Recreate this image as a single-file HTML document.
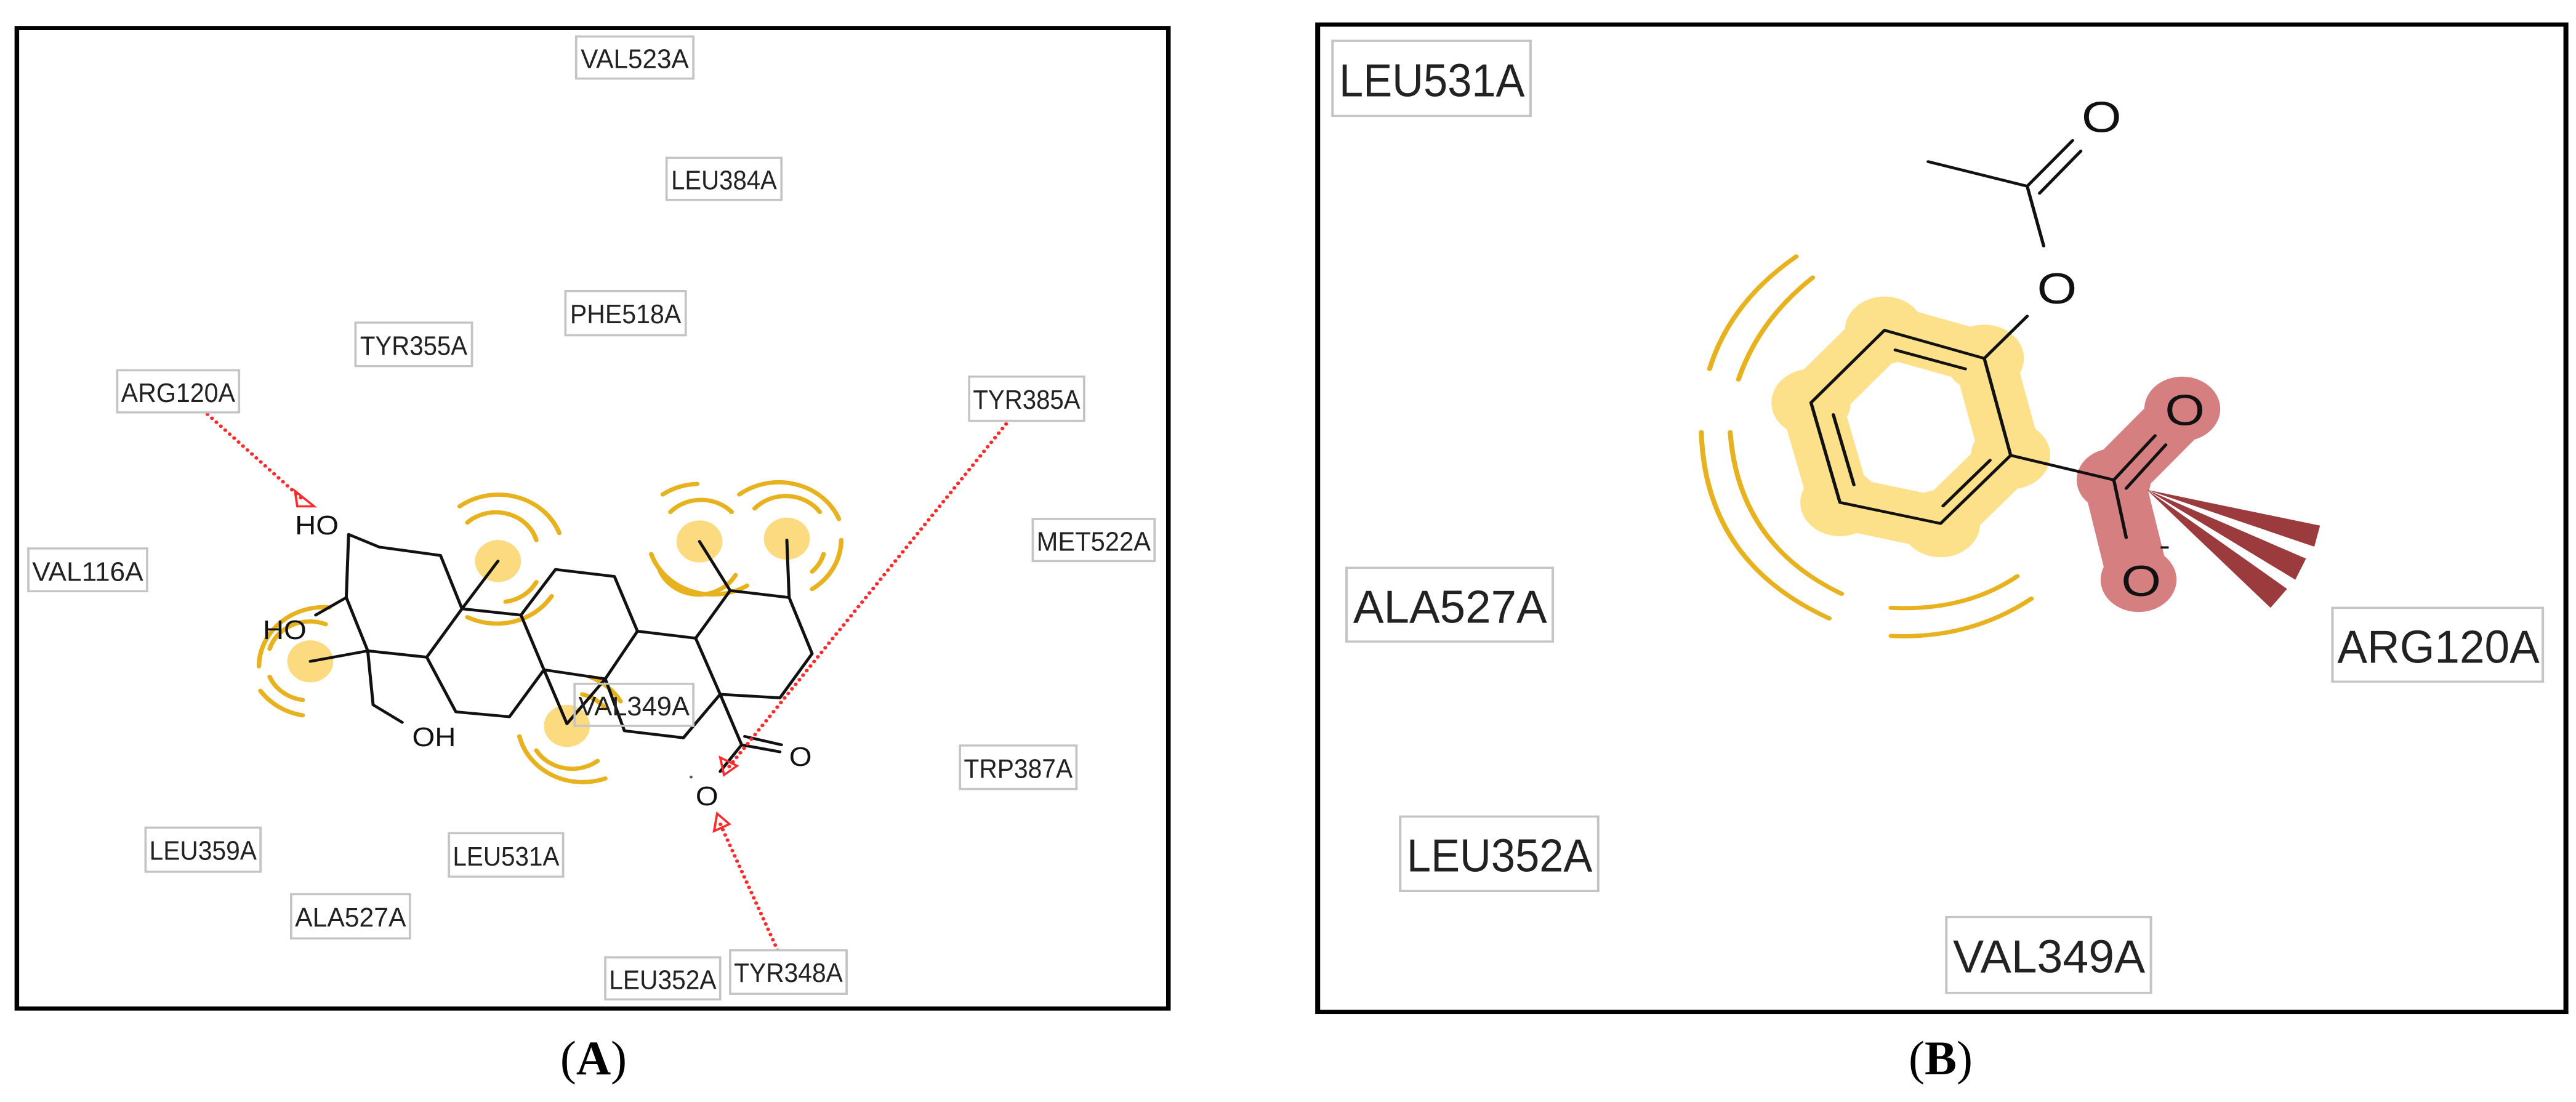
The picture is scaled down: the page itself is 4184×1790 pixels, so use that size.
<!DOCTYPE html>
<html><head><meta charset="utf-8"><style>
html,body{margin:0;padding:0;background:#fff;}
svg{display:block;}
.lb rect{fill:#fff;stroke:#c4c4c4;stroke-width:3;}
.lb text{font-family:"Liberation Sans",sans-serif;fill:#222;}
.bd{stroke:#111;stroke-width:4;fill:none;stroke-linecap:round;stroke-linejoin:round;}
.at{font-family:"Liberation Sans",sans-serif;fill:#111;}
.hy{fill:none;stroke:#e8b21f;stroke-width:6;stroke-linecap:round;}
.hb{fill:none;stroke:#ff2a2a;stroke-width:5;stroke-dasharray:0.1 8;stroke-linecap:round;}
</style></head><body>
<svg width="4184" height="1790" viewBox="0 0 4184 1790" xmlns="http://www.w3.org/2000/svg">
<rect width="4184" height="1790" fill="#fff"/>
<!-- Panel A -->
<g transform="scale(1.2444,1.1392)">
<rect x="22" y="40" width="1503" height="1398" fill="none" stroke="#000" stroke-width="6"/>
<g fill="#fcdb80">
<circle cx="650" cy="800" r="30"/><circle cx="405" cy="943" r="30"/><circle cx="740" cy="1035" r="30"/><circle cx="913" cy="772" r="30"/><circle cx="1027" cy="768" r="30"/>
</g>
<g class="hy">
<path d="M610,745 A55,55 0 0 1 700,770"/><path d="M600,722 A85,85 0 0 1 730,760"/>
<path d="M700,830 A55,55 0 0 1 660,858"/><path d="M720,850 A85,85 0 0 1 610,880"/>
<path d="M425,890 A55,55 0 0 0 352,925"/><path d="M430,866 A85,85 0 0 0 338,950"/>
<path d="M352,965 A55,55 0 0 0 395,998"/><path d="M340,985 A85,85 0 0 0 395,1020"/>
<path d="M700,1070 A55,55 0 0 0 780,1085"/><path d="M678,1050 A85,85 0 0 0 790,1110"/>
<path d="M760,990 A55,55 0 0 1 790,1010"/><path d="M770,965 A85,85 0 0 1 810,1000"/>
<path d="M875,730 A55,55 0 0 1 955,730"/><path d="M865,705 A85,85 0 0 1 910,690"/>
<path d="M860,810 A55,55 0 0 0 960,820"/><path d="M850,790 A85,85 0 0 0 975,835"/>
<path d="M985,725 A55,55 0 0 1 1070,730"/><path d="M965,705 A85,85 0 0 1 1095,740"/>
<path d="M1075,790 A55,55 0 0 1 1060,815"/><path d="M1098,770 A85,85 0 0 1 1060,840"/>
</g>
<g class="bd">
<path d="M455,762 L495,780 L575,792 L603,868 L557,937 L480,928 L452,852 Z"/>
<path d="M452,852 L412,877"/><path d="M480,928 L405,943"/>
<path d="M480,928 L487,1005 L525,1030"/>
<path d="M557,937 L595,1015 L665,1022 L710,955 L680,877 L603,868 L650,800"/>
<path d="M680,877 L725,812 L802,822 L832,900 L790,968 L710,955 L740,1032 L790,968"/>
<path d="M832,900 L908,910 L940,990 L892,1052 L815,1042 L790,968"/>
<path d="M908,910 L953,842 L1030,852 L1060,932 L1018,995 L940,990"/>
<path d="M953,842 L913,772"/><path d="M1030,852 L1027,770"/>
<path d="M940,990 L968,1062 L940,1100"/>
<path d="M968,1062 L1018,1072"/><path d="M972,1050 L1020,1062"/>
</g>
<text class="at" x="385" y="762" font-size="38">HO</text>
<text class="at" x="343" y="911" font-size="38">HO</text>
<text class="at" x="538" y="1064" font-size="38">OH</text>
<text class="at" x="1030" y="1092" font-size="38">O</text>
<text class="at" x="908" y="1148" font-size="38">O</text>
<circle cx="902" cy="1108" r="2" fill="#555"/>
<g class="hb">
<path d="M265,585 L395,712"/>
<path d="M1318,598 L948,1098"/>
<path d="M1015,1355 L938,1170"/>
</g>
<g fill="none" stroke="#ff2a2a" stroke-width="3">
<path d="M385,700 L410,722 L388,722 Z"/>
<path d="M945,1105 L940,1080 L962,1092 Z"/>
<path d="M936,1160 L932,1185 L952,1175 Z"/>
</g>
<g class="lb">
<rect x="752" y="52" width="153" height="60"/><text x="758" y="97" font-size="38" textLength="141" lengthAdjust="spacingAndGlyphs">VAL523A</text>
<rect x="870" y="225" width="150" height="60"/><text x="876" y="270" font-size="38" textLength="138" lengthAdjust="spacingAndGlyphs">LEU384A</text>
<rect x="738" y="415" width="157" height="63"/><text x="744" y="461" font-size="38" textLength="145" lengthAdjust="spacingAndGlyphs">PHE518A</text>
<rect x="464" y="460" width="152" height="62"/><text x="470" y="506" font-size="38" textLength="140" lengthAdjust="spacingAndGlyphs">TYR355A</text>
<rect x="153" y="528" width="159" height="60"/><text x="158" y="573" font-size="38" textLength="149" lengthAdjust="spacingAndGlyphs">ARG120A</text>
<rect x="1265" y="537" width="150" height="63"/><text x="1270" y="583" font-size="38" textLength="140" lengthAdjust="spacingAndGlyphs">TYR385A</text>
<rect x="1348" y="740" width="159" height="60"/><text x="1353" y="785" font-size="38" textLength="149" lengthAdjust="spacingAndGlyphs">MET522A</text>
<rect x="37" y="782" width="155" height="61"/><text x="42" y="828" font-size="38" textLength="145" lengthAdjust="spacingAndGlyphs">VAL116A</text>
<rect x="750" y="975" width="155" height="60" style="fill:none"/><text x="755" y="1020" font-size="38" textLength="145" lengthAdjust="spacingAndGlyphs">VAL349A</text>
<rect x="1253" y="1063" width="152" height="62"/><text x="1258" y="1109" font-size="38" textLength="142" lengthAdjust="spacingAndGlyphs">TRP387A</text>
<rect x="190" y="1180" width="150" height="63"/><text x="195" y="1226" font-size="38" textLength="140" lengthAdjust="spacingAndGlyphs">LEU359A</text>
<rect x="586" y="1188" width="149" height="62"/><text x="591" y="1234" font-size="38" textLength="139" lengthAdjust="spacingAndGlyphs">LEU531A</text>
<rect x="380" y="1275" width="155" height="63"/><text x="385" y="1321" font-size="38" textLength="145" lengthAdjust="spacingAndGlyphs">ALA527A</text>
<rect x="790" y="1365" width="150" height="60"/><text x="795" y="1410" font-size="38" textLength="140" lengthAdjust="spacingAndGlyphs">LEU352A</text>
<rect x="953" y="1355" width="152" height="62"/><text x="958" y="1400" font-size="38" textLength="142" lengthAdjust="spacingAndGlyphs">TYR348A</text>
</g>
</g>
<!-- Panel B -->
<g transform="translate(2100,0) scale(1.340,1.1414)">
<rect x="30" y="35" width="1513" height="1405" fill="none" stroke="#000" stroke-width="6"/>
<path d="M717,470 L838,510 L870,648 L785,745 L663,715 L628,573 Z" fill="none" stroke="#fde08a" stroke-width="75" stroke-linejoin="round"/>
<g fill="#fde08a"><circle cx="717" cy="470" r="48"/><circle cx="838" cy="510" r="48"/><circle cx="870" cy="648" r="48"/><circle cx="785" cy="745" r="48"/><circle cx="663" cy="715" r="48"/><circle cx="628" cy="573" r="48"/></g>
<path d="M1078,585 L995,683 L1025,825" fill="none" stroke="#d57f80" stroke-width="75" stroke-linejoin="round" stroke-linecap="round"/>
<g fill="#d57f80"><circle cx="1078" cy="582" r="46"/><circle cx="1025" cy="825" r="46"/><circle cx="995" cy="683" r="45"/></g>
<g fill="#9c3b3d">
<path d="M1035,697 L1245,748 L1238,778 Z"/>
<path d="M1035,697 L1228,795 L1215,825 Z"/>
<path d="M1035,697 L1205,838 L1185,865 Z"/>
</g>
<g class="hy" stroke-width="8">
<path d="M610,365 Q530,430 505,525"/><path d="M630,395 Q565,455 540,540"/>
<path d="M495,615 Q500,800 650,880"/><path d="M530,615 Q540,775 665,845"/>
<path d="M725,905 Q820,910 895,852"/><path d="M725,865 Q815,870 878,820"/>
</g>
<g class="bd" stroke-width="5">
<path d="M717,470 L838,510 L870,648 L785,745 L663,715 L628,573 Z"/>
<path d="M730,498 L815,525"/><path d="M845,655 L788,720"/><path d="M655,590 L680,690"/>
<path d="M838,510 L890,450"/>
<path d="M910,350 L890,265 L770,230"/>
<path d="M890,265 L945,200"/><path d="M905,275 L955,215"/>
<path d="M870,648 L995,683 L1010,765"/>
<path d="M995,683 L1045,620"/><path d="M1010,695 L1058,633"/>
</g>
<g class="at" font-size="62">
<text x="902" y="432">O</text>
<text x="956" y="188">O</text>
<text x="1057" y="605">O</text>
<text x="1004" y="848">O</text>
<text x="1050" y="790" font-size="40">-</text>
</g>
<g class="lb">
<rect x="48" y="58" width="240" height="107"/><text x="56" y="137" font-size="66" textLength="225" lengthAdjust="spacingAndGlyphs">LEU531A</text>
<rect x="65" y="808" width="250" height="105"/><text x="73" y="886" font-size="66" textLength="235" lengthAdjust="spacingAndGlyphs">ALA527A</text>
<rect x="130" y="1162" width="240" height="106"/><text x="138" y="1240" font-size="66" textLength="225" lengthAdjust="spacingAndGlyphs">LEU352A</text>
<rect x="1260" y="865" width="255" height="105"/><text x="1266" y="943" font-size="66" textLength="245" lengthAdjust="spacingAndGlyphs">ARG120A</text>
<rect x="792" y="1305" width="248" height="108"/><text x="800" y="1384" font-size="66" textLength="233" lengthAdjust="spacingAndGlyphs">VAL349A</text>
</g>
</g>
<text x="964" y="1745" text-anchor="middle" font-family="'Liberation Serif',serif" font-size="78" fill="#000">(<tspan font-weight="bold">A</tspan>)</text>
<text x="3152" y="1745" text-anchor="middle" font-family="'Liberation Serif',serif" font-size="78" fill="#000">(<tspan font-weight="bold">B</tspan>)</text>
</svg>
</body></html>
